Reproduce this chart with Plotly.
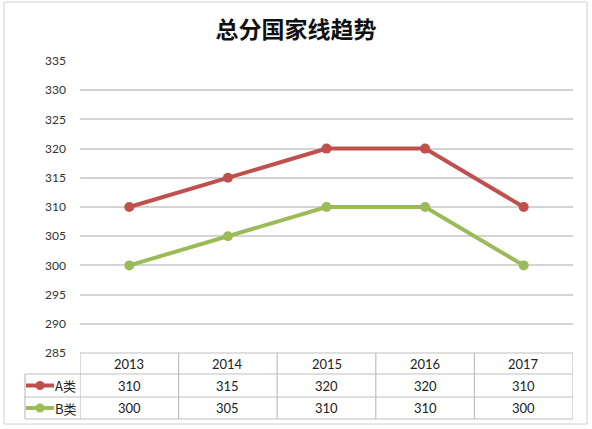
import plotly.graph_objects as go

# data
years = ['2013', '2014', '2015', '2016', '2017']
a_scores = [310, 315, 320, 320, 310]
b_scores = [300, 305, 310, 310, 300]
series_names = ['A类', 'B类']
series_colors = ['#c0504d', '#9bbb59']
y_ticks = list(range(285, 340, 5))

W, H = 592, 429
L, R, T, B = 80, 19, 61, 76
plot_h = H - T - B
plot_w = W - L - R


def py(px):
    # pixel row -> paper y
    return (H - B - px) / plot_h


def px_x(px):
    return (px - L) / plot_w


xs = list(range(len(years)))
fig = go.Figure()
for name, vals, col in zip(series_names, [a_scores, b_scores], series_colors):
    fig.add_trace(go.Scatter(x=xs, y=vals, name=name, mode='lines+markers',
                             line=dict(color=col, width=4),
                             marker=dict(size=10, color=col), cliponaxis=False))

grey = '#bfbfbf'
txt_font = dict(size=13, color='#222', family='Lato, Liberation Sans, sans-serif')
shapes = []
annotations = []

# data table under the axis
row_lines = [py(374), py(397), py(419)]
for yy in row_lines:
    shapes.append(dict(type='line', xref='paper', yref='paper',
                       x0=px_x(25), x1=1, y0=yy, y1=yy,
                       line=dict(color=grey, width=1.2)))
shapes.append(dict(type='line', xref='paper', yref='paper', x0=0, x1=1,
                   y0=0, y1=0, line=dict(color=grey, width=1.2)))
shapes.append(dict(type='line', xref='paper', yref='paper',
                   x0=px_x(25), x1=px_x(25), y0=row_lines[0], y1=row_lines[2],
                   line=dict(color=grey, width=1.2)))
for i in range(len(years) + 1):
    shapes.append(dict(type='line', xref='x', yref='paper', x0=i - 0.5, x1=i - 0.5,
                       y0=0, y1=row_lines[2], line=dict(color=grey, width=1.2)))

row_mid = [py(363.5), py(385.5), py(408)]
for i, yr in enumerate(years):
    for r, txt in enumerate([yr, str(a_scores[i]), str(b_scores[i])]):
        annotations.append(dict(x=i, y=row_mid[r], xref='x', yref='paper', text=txt,
                                xanchor='center', yanchor='middle',
                                showarrow=False, font=txt_font))

for k, (name, col) in enumerate(zip(series_names, series_colors)):
    ym = row_mid[k + 1]
    shapes.append(dict(type='line', xref='paper', yref='paper', x0=px_x(26), x1=px_x(54),
                       y0=ym, y1=ym, line=dict(color=col, width=4)))
    shapes.append(dict(type='circle', xref='paper', yref='paper', x0=px_x(35.5), x1=px_x(44.5),
                       y0=ym - 4.5 / plot_h, y1=ym + 4.5 / plot_h,
                       fillcolor=col, line=dict(color=col, width=0)))
    annotations.append(dict(x=px_x(53), y=ym, xref='paper', yref='paper', text=name,
                            xanchor='left', yanchor='middle', showarrow=False,
                            font=dict(size=13, color='#222', family='Noto Sans CJK SC, sans-serif')))

# outer frame
shapes.append(dict(type='rect', xref='paper', yref='paper', x0=px_x(4), x1=px_x(587),
                   y0=py(424), y1=py(2), line=dict(color='#d0d0d0', width=1)))

fig.update_layout(
    width=W, height=H,
    margin=dict(l=L, r=R, t=T, b=B),
    paper_bgcolor='white', plot_bgcolor='white',
    font=dict(family='Lato, Noto Sans CJK SC, sans-serif'),
    title=dict(text='<b>总分国家线趋势</b>', x=0.5, xanchor='center', y=1 - 30 / H, yanchor='middle',
               font=dict(size=23, color='#111', family='Noto Sans CJK SC, serif')),
    showlegend=False,
    xaxis=dict(range=[-0.5, len(years) - 0.5], showticklabels=False, showgrid=False,
               zeroline=False, showline=False, fixedrange=True),
    yaxis=dict(range=[285, 335], tickvals=y_ticks, showgrid=True, gridcolor='#d4d4d4',
               gridwidth=1.5, zeroline=False, showline=False, ticks='',
               ticklabelstandoff=13, tickfont=dict(size=12, color='#333')),
    shapes=shapes,
    annotations=annotations,
)

fig.write_html("out.html", config={'displayModeBar': False},
               post_script="document.body.style.margin='0';")
